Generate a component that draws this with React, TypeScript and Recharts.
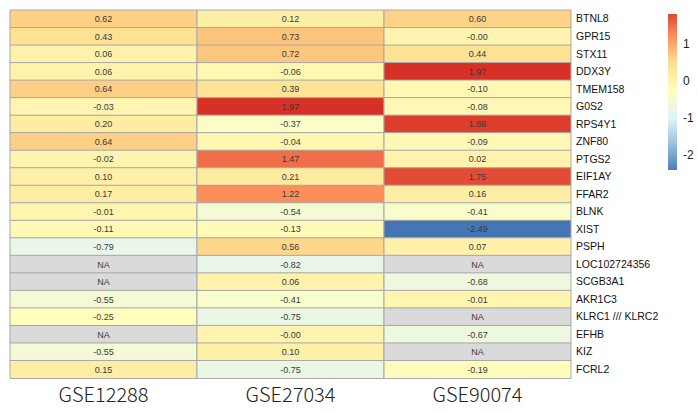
import React from 'react';
import {
  BarChart, Bar, XAxis, YAxis, Cell, LabelList, ComposedChart, ReferenceArea,
} from 'recharts';

const genes = ['BTNL8', 'GPR15', 'STX11', 'DDX3Y', 'TMEM158', 'G0S2', 'RPS4Y1', 'ZNF80', 'PTGS2', 'EIF1AY', 'FFAR2', 'BLNK', 'XIST', 'PSPH', 'LOC102724356', 'SCGB3A1', 'AKR1C3', 'KLRC1 /// KLRC2', 'EFHB', 'KIZ', 'FCRL2'];
const datasets = ['GSE12288', 'GSE27034', 'GSE90074'];
const gse12288: (number | null)[] = [0.62, 0.43, 0.06, 0.06, 0.64, -0.03, 0.20, 0.64, -0.02, 0.10, 0.17, -0.01, -0.11, -0.79, null, null, -0.55, -0.25, null, -0.55, 0.15];
const gse27034: (number | null)[] = [0.12, 0.73, 0.72, -0.06, 0.39, 1.97, -0.37, -0.04, 1.47, 0.21, 1.22, -0.54, -0.13, 0.56, -0.82, 0.06, -0.41, -0.75, -0.001, 0.10, -0.75];
const gse90074: (number | null)[] = [0.60, -0.001, 0.44, 1.97, -0.10, -0.08, 1.86, -0.09, 0.02, 1.75, 0.16, -0.41, -2.49, 0.07, null, -0.68, -0.01, null, -0.67, null, -0.19];
const colorbarTicks = [-2, -1, 0, 1];
const colorbarDomain: [number, number] = [-2.4, 1.8];

const palette = ['#4575b4', '#91bfdb', '#e0f3f8', '#ffffbf', '#fee090', '#fc8d59', '#d73027'];
const vMin = -2.49;
const vMax = 1.97;

function hexToRgb(h: string) {
  return [parseInt(h.slice(1, 3), 16), parseInt(h.slice(3, 5), 16), parseInt(h.slice(5, 7), 16)];
}
function colorFor(v: number | null): string {
  if (v === null) return '#dadada';
  let t = (v - vMin) / (vMax - vMin);
  t = Math.max(0, Math.min(1, t));
  const pos = t * (palette.length - 1);
  const i = Math.min(palette.length - 2, Math.floor(pos));
  const f = pos - i;
  const a = hexToRgb(palette[i]);
  const b = hexToRgb(palette[i + 1]);
  const c = a.map((x, k) => Math.round(x + (b[k] - x) * f));
  return `rgb(${c[0]},${c[1]},${c[2]})`;
}
const fmt = (v: number | null) => (v === null ? 'NA' : v.toFixed(2));

const series = [gse12288, gse27034, gse90074];
const table = genes.map((g, i) => ({
  gene: g,
  w0: 1, w1: 1, w2: 1,
  l0: fmt(gse12288[i]), l1: fmt(gse27034[i]), l2: fmt(gse90074[i]),
}));

const cellFont = 'Liberation Sans, Arial, sans-serif';

const GeneTick = (props: any) => {
  const { x, y, payload } = props;
  return (
    <text x={x} y={y} dy="0.355em" textAnchor="start" fontSize={10.5} fill="#111" fontFamily={cellFont}>
      {payload.value}
    </text>
  );
};

export default function App() {
  const stops = [];
  const n = 24;
  for (let k = 0; k <= n; k++) {
    const v = colorbarDomain[1] - (k / n) * (colorbarDomain[1] - colorbarDomain[0]);
    stops.push(<stop key={k} offset={`${(k / n) * 100}%`} stopColor={colorFor(v)} />);
  }
  return (
    <div style={{ position: 'absolute', left: 0, top: 0, width: 698, height: 412, background: '#fff' }}>
      <div style={{ position: 'absolute', left: 0, top: 0 }}>
        <BarChart
          width={698}
          height={412}
          data={table}
          layout="vertical"
          barCategoryGap={0}
          margin={{ top: 10, left: 10, right: 0, bottom: 0 }}
        >
          <XAxis
            type="number"
            domain={[0, 3]}
            ticks={[0.5, 1.5, 2.5]}
            tickFormatter={(t: number) => datasets[Math.floor(t)]}
            axisLine={false}
            tickLine={false}
            tickSize={0}
            tickMargin={10}
            height={34}
            tick={{ fontSize: 20, fill: '#222', fontFamily: 'Noto Sans CJK SC, Noto Sans, sans-serif', fontWeight: 300 }}
            interval={0}
          />
          <YAxis
            type="category"
            dataKey="gene"
            orientation="right"
            width={127}
            axisLine={false}
            tickLine={false}
            tickSize={0}
            tickMargin={5}
            interval={0}
            tick={<GeneTick />}
          />
          {[0, 1, 2].map((c) => (
            <Bar key={c} dataKey={`w${c}`} stackId="a" isAnimationActive={false} stroke="#a8a8a8" strokeWidth={1}>
              {series[c].map((v, i) => (
                <Cell key={i} fill={colorFor(v)} />
              ))}
              <LabelList
                dataKey={`l${c}`}
                position="center"
                fill="#3a3a3a"
                fontSize={9}
                fontFamily={cellFont}
              />
            </Bar>
          ))}
        </BarChart>
      </div>
      <div style={{ position: 'absolute', left: 660, top: 0 }}>
        <ComposedChart width={38} height={190} data={[{ x: 0 }]} margin={{ top: 14, bottom: 20, left: 8, right: 0 }}>
          <defs>
            <linearGradient id="cbGrad" x1="0" y1="0" x2="0" y2="1">
              {stops}
            </linearGradient>
          </defs>
          <XAxis type="number" dataKey="x" domain={[0, 1]} hide />
          <YAxis
            type="number"
            domain={colorbarDomain}
            ticks={colorbarTicks}
            orientation="right"
            width={21}
            axisLine={false}
            tickLine={false}
            tickSize={0}
            tickMargin={6}
            allowDataOverflow
            tick={{ fontSize: 12, fill: '#222', fontFamily: cellFont, textAnchor: 'start' }}
          />
          <ReferenceArea x1={0} x2={1} y1={colorbarDomain[0]} y2={colorbarDomain[1]} fill="url(#cbGrad)" fillOpacity={1} stroke="none" />
        </ComposedChart>
      </div>
    </div>
  );
}
